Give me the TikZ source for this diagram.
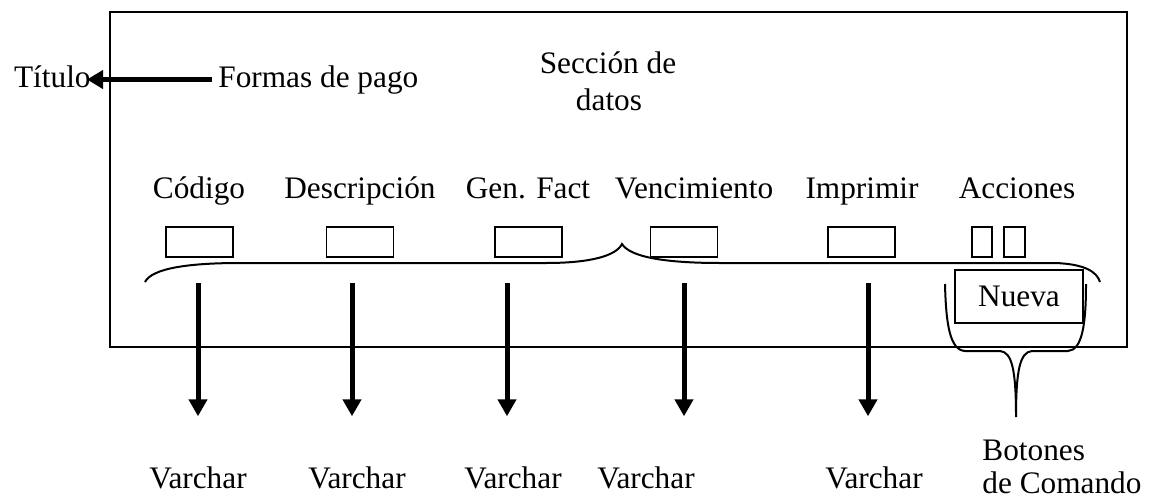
\documentclass[tikz,border=0pt]{standalone}
\usepackage{fontspec}
\setmainfont{Liberation Serif}
\usetikzlibrary{arrows.meta,positioning,calc}

\begin{document}
\begin{tikzpicture}[x=0.5pt,y=-0.5pt,>=Stealth,
 font=\fontsize{15.65}{18.5}\selectfont,
 every node/.style={inner sep=0pt},
 caja/.style={draw,line width=0.75pt,minimum width=33.5pt,minimum height=15pt},
 llave/.style={line width=1pt},
 campo/.style={line width=2.5pt,-{Triangle[length=8.5pt,width=9pt]},shorten >=24.8pt},
 flecha/.style={line width=2.3pt,-{Triangle[length=8pt,width=9pt]}}]
 \useasboundingbox (0,0) rectangle (1150,503);
 \draw[line width=1.2pt] (110,12) rectangle (1127,347);
 % title
 \node[anchor=base east] (titulo) at (91,87) {Título};
 \node[anchor=base west] (fpago) at (218,87) {Formas de pago};
 \draw[flecha,shorten <=3pt,shorten >=-2pt] (fpago.west) -- (titulo.east |- fpago.west);
 \node[anchor=base] (seccion) at (608,73) {Sección de};
 \node[anchor=base] (datos) at (609,110) {datos};
 % columns
 \node[anchor=base] (cod) at (199,198) {Código};
 \node[anchor=base] (desc) at (360,198) {Descripción};
 \node[anchor=base] (gen) at (528,198) {Gen. Fact};
 \node[anchor=base] (venc) at (694,198) {Vencimiento};
 \node[anchor=base] (impr) at (862,198) {Imprimir};
 \node[anchor=base] (acc) at (1017,198) {Acciones};
 \node[caja] (bcod) at (199.5,242) {};
 \node[caja] (bdesc) at (360,242) {};
 \node[caja] (bgen) at (528.5,242) {};
 \node[caja] (bvenc) at (684,242) {};
 \node[caja] (bimpr) at (861.5,242) {};
 \node[caja,minimum width=10pt] (bacc1) at (982,242) {};
 \node[caja,minimum width=10.5pt] (bacc2) at (1014.5,242) {};
 \node[caja,minimum width=64pt,minimum height=26.5pt] (nueva) at (1019,296.5) {Nueva};
 % braces
 \draw[llave] (145,282) .. controls (152,268) and (190,263) .. (240,263)
 -- (546,263) .. controls (590,263) and (616,256) .. (622,244)
 .. controls (630,257) and (665,263) .. (720,263)
 -- (1055,263) .. controls (1085,264) and (1097,272) .. (1100,282);
 \draw[llave] (945,284) .. controls (946,325) and (950,350) .. (965,351)
 -- (1000,351) .. controls (1012,352) and (1016,370) .. (1016,417)
 .. controls (1016,370) and (1020,352) .. (1032,351)
 -- (1068,351) .. controls (1082,350) and (1086,325) .. (1086,284);
 % types
 \node[anchor=base] (v1) at (198,488) {Varchar};
 \node[anchor=base] (v2) at (357,488) {Varchar};
 \node[anchor=base] (v3) at (513,488) {Varchar};
 \node[anchor=base] (v4) at (646,488) {Varchar};
 \node[anchor=base] (v5) at (874,488) {Varchar};
 \coordinate (a1) at (198,283);
 \coordinate (a2) at (352,283);
 \coordinate (a3) at (507,283);
 \coordinate (a4) at (684,283);
 \coordinate (a5) at (868,283);
 \draw[campo] (a1) -- (a1 |- v1.north);
 \draw[campo] (a2) -- (a2 |- v2.north);
 \draw[campo] (a3) -- (a3 |- v3.north);
 \draw[campo] (a4) -- (a4 |- v4.north);
 \draw[campo] (a5) -- (a5 |- v5.north);
 \node[anchor=base west] (botones) at (982,460) {Botones};
 \node[anchor=base west] (comando) at (982,493) {de Comando};
\end{tikzpicture}
\end{document}
